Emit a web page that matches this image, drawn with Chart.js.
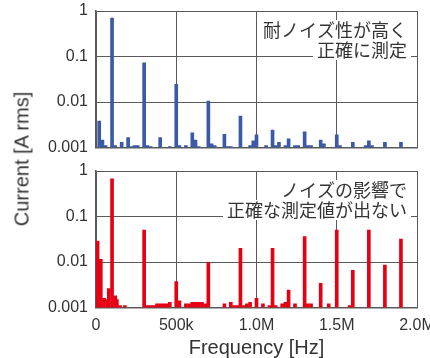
<!DOCTYPE html>
<html lang="ja">
<head>
  <meta charset="UTF-8">
  <title>Current spectrum</title>
  <script src="https://cdn.jsdelivr.net/npm/chart.js"></script>
  <style>
    body { margin: 0; background: #fff; }
    #wrap { position: relative; width: 430px; height: 358px; overflow: hidden; }
    #topBox { position: absolute; left: 0; top: 0; width: 430px; height: 160px; }
    #botBox { position: absolute; left: 0; top: 160px; width: 430px; height: 198px; }
    #yTitle {
      position: absolute; left: 22px; top: 159px;
      transform: translate(-50%, -50%) rotate(-90deg);
      font: 20px 'Liberation Sans', Arial, sans-serif; color: #333; white-space: nowrap;
    }
  </style>
</head>
<body>
<div id="wrap">
  <div id="topBox"><canvas id="topChart"></canvas></div>
  <div id="botBox"><canvas id="botChart"></canvas></div>
  <div id="yTitle">Current [A rms]</div>
</div>

<script>
  // 上段: 耐ノイズ性が高い測定 (kHz, A rms)
  const freqTopKHz = [20, 40, 60, 100, 120, 160, 200, 220, 240, 260, 300, 320, 340, 400, 460,
    500, 520, 560, 600, 620, 640, 700, 720, 740, 800, 820, 840, 900, 960, 980, 1000, 1060,
    1100, 1120, 1140, 1180, 1200, 1240, 1260, 1300, 1320, 1340, 1400, 1420, 1500, 1520,
    1600, 1680, 1700, 1720, 1800, 1900];
  const currentTop = [0.0038, 0.00145, 0.0011, 0.70, 0.0011, 0.0013, 0.00165, 0.00105, 0.0011, 0.0011,
    0.073, 0.0011, 0.00105, 0.00165, 0.00105, 0.0245, 0.0011, 0.0011, 0.0021, 0.00145, 0.00105,
    0.0105, 0.0012, 0.0011, 0.00195, 0.00105, 0.00105, 0.0049, 0.0011, 0.0014, 0.0019, 0.0011,
    0.0024, 0.0011, 0.0013, 0.0011, 0.00155, 0.0011, 0.0011, 0.0022, 0.0011, 0.0011, 0.00145,
    0.0012, 0.0019, 0.0011, 0.0013, 0.0011, 0.0014, 0.0011, 0.0013, 0.0013];

  // 下段: ノイズの影響を受けた測定
  const freqBotKHz = [10, 20, 30, 50, 70, 80, 100, 120, 130, 150, 180, 300, 320, 340, 360, 380,
    400, 420, 440, 460, 500, 520, 560, 580, 600, 620, 640, 660, 680, 700, 800, 840, 860, 880,
    900, 920, 940, 960, 1000, 1040, 1080, 1100, 1120, 1160, 1180, 1200, 1240, 1300, 1320, 1340,
    1400, 1450, 1500, 1580, 1600, 1700, 1800, 1900];
  const currentBot = [0.029, 0.0031, 0.0115, 0.0016, 0.0015, 0.0026, 0.67, 0.0018, 0.0015, 0.0011,
    0.0011, 0.050, 0.0011, 0.0011, 0.0011, 0.0012, 0.0012, 0.0012, 0.0012, 0.0013, 0.0037, 0.0014,
    0.0012, 0.0012, 0.0013, 0.0013, 0.0013, 0.0013, 0.0012, 0.0098, 0.0012, 0.0013, 0.0011, 0.0011,
    0.020, 0.0011, 0.0012, 0.0013, 0.0016, 0.0012, 0.0011, 0.020, 0.0011, 0.0012, 0.0013, 0.0024,
    0.0012, 0.036, 0.0012, 0.0012, 0.0034, 0.0012, 0.050, 0.0011, 0.0066, 0.050, 0.0086, 0.032];

  const xTickValues = [0, 500000, 1000000, 1500000, 2000000];
  const xTickLabels = ['0', '500k', '1.0M', '1.5M', '2.0M'];
  const yTickValues = [0.001, 0.01, 0.1, 1];
  const yTickLabels = ['0.001', '0.01', '0.1', '1'];

  const noteTop = ['耐ノイズ性が高く', '正確に測定'];
  const noteBot = ['ノイズの影響で', '正確な測定値が出ない'];

  const latin = "'Liberation Sans', Arial, sans-serif";
  const gridColor = '#5a5a5a';

  // 右上の注記 (白地の上に文字)
  const notePlugin = {
    id: 'note',
    beforeDatasetsDraw(chart, args, opts) {
      const { ctx, chartArea } = chart;
      ctx.save();
      ctx.font = "18px 'Noto Sans CJK JP'";
      ctx.textAlign = 'right';
      ctx.textBaseline = 'middle';
      const right = chartArea.right - 10;
      opts.lines.forEach((line, i) => {
        const cy = chartArea.top + 19 + i * 20;
        const w = ctx.measureText(line).width;
        ctx.fillStyle = '#fff';
        ctx.fillRect(right - w - 4, cy - 10, w + 8, 20);
        ctx.fillStyle = '#333';
        ctx.fillText(line, right, cy);
      });
      ctx.restore();
    }
  };

  function makePanel(id, freqs, values, color, note, showX) {
    const points = freqs.map((f, i) => ({ x: f * 1000, y: values[i] }));
    return new Chart(document.getElementById(id), {
      type: 'bar',
      data: {
        datasets: [{
          data: points,
          backgroundColor: color,
          barThickness: 3,
          borderWidth: 0
        }]
      },
      options: {
        responsive: true,
        maintainAspectRatio: false,
        animation: false,
        layout: { padding: { left: 0, right: 13, top: 11, bottom: showX ? 0 : 12.5 } },
        plugins: {
          legend: { display: false },
          tooltip: { enabled: false },
          note: { lines: note }
        },
        scales: {
          x: {
            type: 'linear',
            min: 0,
            max: 2000000,
            offset: false,
            afterBuildTicks: s => { s.ticks = xTickValues.map(v => ({ value: v })); },
            ticks: {
              display: showX,
              autoSkip: false,
              maxRotation: 0,
              padding: 8,
              color: '#333',
              font: { size: 16, family: latin },
              callback: v => xTickLabels[xTickValues.indexOf(v)]
            },
            grid: { color: gridColor, lineWidth: 1, drawTicks: false, offset: false },
            border: { color: gridColor, width: 1.5 },
            title: {
              display: showX,
              text: 'Frequency [Hz]',
              color: '#333',
              font: { size: 20, family: latin, lineHeight: 1 },
              padding: { top: 0, bottom: 0 }
            },
            afterFit: s => {
              s.paddingLeft = 0;
              s.paddingRight = 0;
              s.height = showX ? 50.5 : 0;
            }
          },
          y: {
            type: 'logarithmic',
            min: 0.001,
            max: 1,
            afterBuildTicks: s => { s.ticks = yTickValues.map(v => ({ value: v })); },
            ticks: {
              padding: 8,
              color: '#333',
              font: { size: 16, family: latin },
              callback: v => yTickLabels[yTickValues.indexOf(v)]
            },
            grid: { color: gridColor, lineWidth: 1, drawTicks: false },
            border: { color: gridColor, width: 1.5 },
            afterFit: s => {
              s.width = 96;
              s.paddingTop = 0;
              s.paddingBottom = 0;
            }
          }
        }
      },
      plugins: [notePlugin]
    });
  }

  makePanel('topChart', freqTopKHz, currentTop, '#3a5aa6', noteTop, false);
  makePanel('botChart', freqBotKHz, currentBot, '#e60014', noteBot, true);
</script>
</body>
</html>
